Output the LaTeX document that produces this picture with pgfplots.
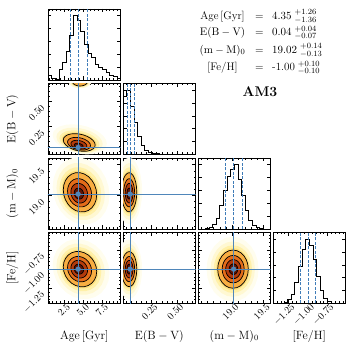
\documentclass[border=0pt]{standalone}
\usepackage{pgfplots}
\usepackage{pgfplotstable}
\pgfplotsset{compat=1.18}

\definecolor{truthblue}{HTML}{4F86BA}
\definecolor{qblue}{HTML}{3F7CB8}
\definecolor{glowD}{HTML}{FFFDEE}
\definecolor{glowC}{HTML}{FFF8D2}
\definecolor{glowB}{HTML}{FFF0A8}
\definecolor{glowA}{HTML}{FEE07E}
\definecolor{bandA}{HTML}{F8AE42}
\definecolor{bandB}{HTML}{E46C1A}
\definecolor{bandC}{HTML}{B23A0C}
\definecolor{bandD}{HTML}{5E1405}

% unit circle, used as the outline of every contour level
\pgfplotstableread{
u v
1.0000 0.0000
0.9659 0.2588
0.8660 0.5000
0.7071 0.7071
0.5000 0.8660
0.2588 0.9659
0.0000 1.0000
-0.2588 0.9659
-0.5000 0.8660
-0.7071 0.7071
-0.8660 0.5000
-0.9659 0.2588
-1.0000 0.0000
-0.9659 -0.2588
-0.8660 -0.5000
-0.7071 -0.7071
-0.5000 -0.8660
-0.2588 -0.9659
0.0000 -1.0000
0.2588 -0.9659
0.5000 -0.8660
0.7071 -0.7071
0.8660 -0.5000
0.9659 -0.2588
1.0000 0.0000
}\unitcirc

% level: scale, cx, cy, a, b, shear, peak x, peak y, style
\newcommand{\lev}[9]{%
  \addplot[#9] table[
    x expr={#7+(#1)*((#2)-(#7))+(#1)*(#4)*\thisrow{u}},
    y expr={#8+(#1)*((#3)-(#8))+(#1)*((#5)*\thisrow{v}+(#6)*\thisrow{u})}
  ]{\unitcirc};}
\newcommand{\density}[7]{%
  \lev{1.7}{#1}{#2}{#3}{#4}{#5}{#6}{#7}{draw=none, fill=glowD}
  \lev{1.45}{#1}{#2}{#3}{#4}{#5}{#6}{#7}{draw=none, fill=glowC}
  \lev{1.25}{#1}{#2}{#3}{#4}{#5}{#6}{#7}{draw=none, fill=glowB}
  \lev{1.1}{#1}{#2}{#3}{#4}{#5}{#6}{#7}{draw=none, fill=glowA}
  \lev{1.0}{#1}{#2}{#3}{#4}{#5}{#6}{#7}{draw=black, line width=0.7pt, fill=bandA}
  \lev{0.72}{#1}{#2}{#3}{#4}{#5}{#6}{#7}{draw=black, line width=0.7pt, fill=bandB}
  \lev{0.5}{#1}{#2}{#3}{#4}{#5}{#6}{#7}{draw=black, line width=0.7pt, fill=bandC}
  \lev{0.28}{#1}{#2}{#3}{#4}{#5}{#6}{#7}{draw=black, line width=0.7pt, fill=bandD}}

\pgfplotsset{
  cp/.style={
    width=72.5pt, height=71pt, scale only axis, anchor=south west,
    axis line style={line width=0.6pt},
    tick align=inside, tick pos=both,
    major tick length=3.5pt, minor tick length=2pt,
    tick style={black, line width=0.5pt},
    tick label style={font=\normalsize},
    xticklabel style={rotate=45, anchor=north east, inner sep=1pt, xshift=3pt},
    yticklabel style={rotate=45, anchor=east, inner sep=1pt, xshift=-6pt},
    xticklabels={}, yticklabels={},
    x label style={at={(axis description cs:0.5,-0.46)}, anchor=center, font=\large},
    y label style={at={(axis description cs:-0.49,0.5)}, anchor=center, font=\large},
  },
  hist/.style={cp, ymin=0, ymax=1.1, ytick={0,0.2,0.4,0.6,0.8,1.0}},
  ageax/.style={xmin=0.39, xmax=9.93, xtick={2.5,5,7.5}, minor xtick={0.5,1,...,9.5}},
  ebvx/.style={xmin=-0.03, xmax=0.68, xtick={0.25,0.5}, minor xtick={0,0.05,...,0.65}},
  ebvy/.style={ymin=-0.03, ymax=0.68, ytick={0.25,0.5}, minor ytick={0,0.05,...,0.65}},
  dmx/.style={xmin=18.45, xmax=19.61, xtick={19,19.5}, minor xtick={18.5,18.6,...,19.6}},
  dmy/.style={ymin=18.45, ymax=19.61, ytick={19,19.5}, minor ytick={18.5,18.6,...,19.6}},
  fehx/.style={xmin=-1.45, xmax=-0.52, xtick={-1.25,-1,-0.75}, minor xtick={-1.45,-1.4,...,-0.55}},
  fehy/.style={ymin=-1.45, ymax=-0.52, ytick={-1.25,-1,-0.75}, minor ytick={-1.45,-1.4,...,-0.55}},
  truth/.style={truthblue, line width=1pt},
  quant/.style={qblue, line width=0.8pt, dash pattern=on 3pt off 1.5pt},
  step/.style={const plot, black, line width=0.6pt},
  dot/.style={only marks, mark=*, mark size=2.4pt, truthblue},
}

\begin{document}
\begin{tikzpicture}
\path[use as bounding box] (0,0) rectangle (357pt,351pt);

% ---------------- row 1: Age histogram
\begin{axis}[hist, ageax, at={(48pt,271pt)}]
\addplot[step] coordinates {(0.39,0) (0.39,0.08) (0.87,0.03) (1.34,0.01) (1.82,0.17)
 (2.30,0.28) (2.78,0.45) (3.25,0.70) (3.73,1.00) (4.21,0.93) (4.68,0.75) (5.16,0.55)
 (5.64,0.42) (6.11,0.35) (6.59,0.25) (7.07,0.20) (7.55,0.16) (8.02,0.12) (8.50,0.08)
 (8.98,0.05) (9.45,0.03) (9.93,0.03) (9.93,0)};
\addplot[quant] coordinates {(3.35,0) (3.35,1.1)};
\addplot[quant] coordinates {(4.35,0) (4.35,1.1)};
\addplot[quant] coordinates {(5.61,0) (5.61,1.1)};
\end{axis}

% ---------------- row 2
\begin{axis}[cp, ageax, ebvy, at={(48pt,196.5pt)}, ylabel={$\mathrm{E(B-V)}$},
  yticklabels={$0.25$,$0.50$}]
\density{4.5}{0.09}{2.1}{0.085}{-0.025}{4.4}{0.045}
\lev{1.5}{4.6}{0.70}{1.0}{0.045}{0}{4.6}{0.70}{draw=none, fill=glowC}
\lev{1.2}{4.6}{0.70}{1.0}{0.045}{0}{4.6}{0.70}{draw=none, fill=glowA}
\lev{1.0}{4.6}{0.70}{1.0}{0.045}{0}{4.6}{0.70}{draw=black, line width=0.7pt, fill=bandA}
\addplot[truth] coordinates {(4.35,-1) (4.35,1)};
\addplot[truth] coordinates {(-1,0.04) (11,0.04)};
\addplot[dot] coordinates {(4.35,0.04)};
\end{axis}
\begin{axis}[hist, ebvx, at={(123pt,196.5pt)}]
\addplot[step] coordinates {(-0.030,0) (-0.030,0.90) (0.0055,1.00) (0.041,0.74)
 (0.0765,0.50) (0.112,0.28) (0.1475,0.15) (0.183,0.07) (0.2185,0.04) (0.254,0.025)
 (0.2895,0.015) (0.325,0.01) (0.3605,0.008) (0.396,0.006) (0.4315,0.005) (0.467,0.004)
 (0.5025,0.004) (0.538,0.003) (0.5735,0.003) (0.609,0.002) (0.6445,0.002) (0.68,0.002) (0.68,0)};
\addplot[quant] coordinates {(0.015,0) (0.015,1.1)};
\addplot[quant] coordinates {(0.045,0) (0.045,1.1)};
\addplot[quant] coordinates {(0.08,0) (0.08,1.1)};
\end{axis}

% ---------------- row 3
\begin{axis}[cp, ageax, dmy, at={(48pt,122pt)}, ylabel={$\mathrm{(m-M)_0}$},
  yticklabels={$19.0$,$19.5$}]
\density{4.6}{19.05}{2.2}{0.32}{-0.04}{4.4}{19.02}
\addplot[truth] coordinates {(4.35,18) (4.35,20)};
\addplot[truth] coordinates {(-1,19.02) (11,19.02)};
\addplot[dot] coordinates {(4.35,19.02)};
\end{axis}
\begin{axis}[cp, ebvx, dmy, at={(123pt,122pt)}]
\density{0.03}{19.05}{0.075}{0.32}{0}{0.03}{19.02}
\addplot[truth] coordinates {(0.04,18) (0.04,20)};
\addplot[truth] coordinates {(-1,19.02) (1,19.02)};
\addplot[dot] coordinates {(0.04,19.02)};
\end{axis}
\begin{axis}[hist, dmx, at={(198pt,122pt)}]
\addplot[step] coordinates {(18.450,0) (18.450,0.00) (18.508,0.00) (18.566,0.01)
 (18.624,0.03) (18.682,0.07) (18.740,0.17) (18.798,0.36) (18.856,0.60) (18.914,0.82)
 (18.972,0.93) (19.030,1.00) (19.088,0.77) (19.146,0.52) (19.204,0.29) (19.262,0.13)
 (19.320,0.05) (19.378,0.02) (19.436,0.01) (19.494,0.00) (19.552,0.00) (19.610,0.00) (19.610,0)};
\addplot[quant] coordinates {(18.89,0) (18.89,1.1)};
\addplot[quant] coordinates {(19.02,0) (19.02,1.1)};
\addplot[quant] coordinates {(19.16,0) (19.16,1.1)};
\end{axis}

% ---------------- row 4
\begin{axis}[cp, ageax, fehy, at={(48pt,47.5pt)}, ylabel={[Fe/H]},
  xlabel={$\mathrm{Age\,[Gyr]}$},
  xticklabels={$2.5$,$5.0$,$7.5$}, yticklabels={$-1.25$,$-1.00$,$-0.75$}]
\density{4.6}{-1.0}{2.2}{0.23}{-0.03}{4.4}{-1.0}
\addplot[truth] coordinates {(4.35,-2) (4.35,0)};
\addplot[truth] coordinates {(-1,-1.0) (11,-1.0)};
\addplot[dot] coordinates {(4.35,-1.0)};
\end{axis}
\begin{axis}[cp, ebvx, fehy, at={(123pt,47.5pt)}, xlabel={$\mathrm{E(B-V)}$},
  xticklabels={$0.25$,$0.50$}]
\density{0.03}{-1.0}{0.075}{0.23}{0}{0.03}{-1.0}
\addplot[truth] coordinates {(0.04,-2) (0.04,0)};
\addplot[truth] coordinates {(-1,-1.0) (1,-1.0)};
\addplot[dot] coordinates {(0.04,-1.0)};
\end{axis}
\begin{axis}[cp, dmx, fehy, at={(198pt,47.5pt)}, xlabel={$\mathrm{(m-M)_0}$},
  xticklabels={$19.0$,$19.5$}]
\density{19.01}{-1.0}{0.245}{0.25}{0}{19.02}{-1.0}
\addplot[truth] coordinates {(19.02,-2) (19.02,0)};
\addplot[truth] coordinates {(18,-1.0) (20,-1.0)};
\addplot[dot] coordinates {(19.02,-1.0)};
\end{axis}
\begin{axis}[hist, fehx, at={(273pt,47.5pt)}, xlabel={[Fe/H]},
  xticklabels={$-1.25$,$-1.00$,$-0.75$}]
\addplot[step] coordinates {(-1.450,0) (-1.450,0.00) (-1.404,0.00) (-1.357,0.01)
 (-1.311,0.02) (-1.264,0.06) (-1.218,0.15) (-1.171,0.33) (-1.125,0.58) (-1.078,0.84)
 (-1.032,1.00) (-0.985,0.90) (-0.939,0.68) (-0.892,0.42) (-0.846,0.21) (-0.799,0.08)
 (-0.753,0.03) (-0.706,0.01) (-0.660,0.00) (-0.613,0.00) (-0.567,0.00) (-0.520,0.00) (-0.520,0)};
\addplot[quant] coordinates {(-1.10,0) (-1.10,1.1)};
\addplot[quant] coordinates {(-1.00,0) (-1.00,1.1)};
\addplot[quant] coordinates {(-0.90,0) (-0.90,1.1)};
\end{axis}

% ---------------- summary text and title
\begin{scope}[every node/.style={font=\fontsize{11}{12}\selectfont, inner sep=0pt}]
\node[anchor=base] at (222.5pt,331.5pt) {Age\,[Gyr]};
\node[anchor=base] at (259.5pt,331.5pt) {$=$};
\node[anchor=base west] at (272pt,331.5pt) {$4.35\;{}^{+1.26}_{-1.36}$};
\node[anchor=base] at (222.5pt,315pt) {$\mathrm{E(B-V)}$};
\node[anchor=base] at (259.5pt,315pt) {$=$};
\node[anchor=base west] at (272pt,315pt) {$0.04\;{}^{+0.04}_{-0.07}$};
\node[anchor=base] at (222.5pt,297.7pt) {$\mathrm{(m-M)_0}$};
\node[anchor=base] at (259.5pt,297.7pt) {$=$};
\node[anchor=base west] at (272pt,297.7pt) {$19.02\;{}^{+0.14}_{-0.13}$};
\node[anchor=base] at (222.5pt,280.3pt) {[Fe/H]};
\node[anchor=base] at (259.5pt,280.3pt) {$=$};
\node[anchor=base west] at (272pt,280.3pt) {-1.00$\;{}^{+0.10}_{-0.10}$};
\end{scope}
\node[font=\fontsize{14}{16}\selectfont\bfseries] at (260pt,259.3pt) {AM3};
\end{tikzpicture}
\end{document}
